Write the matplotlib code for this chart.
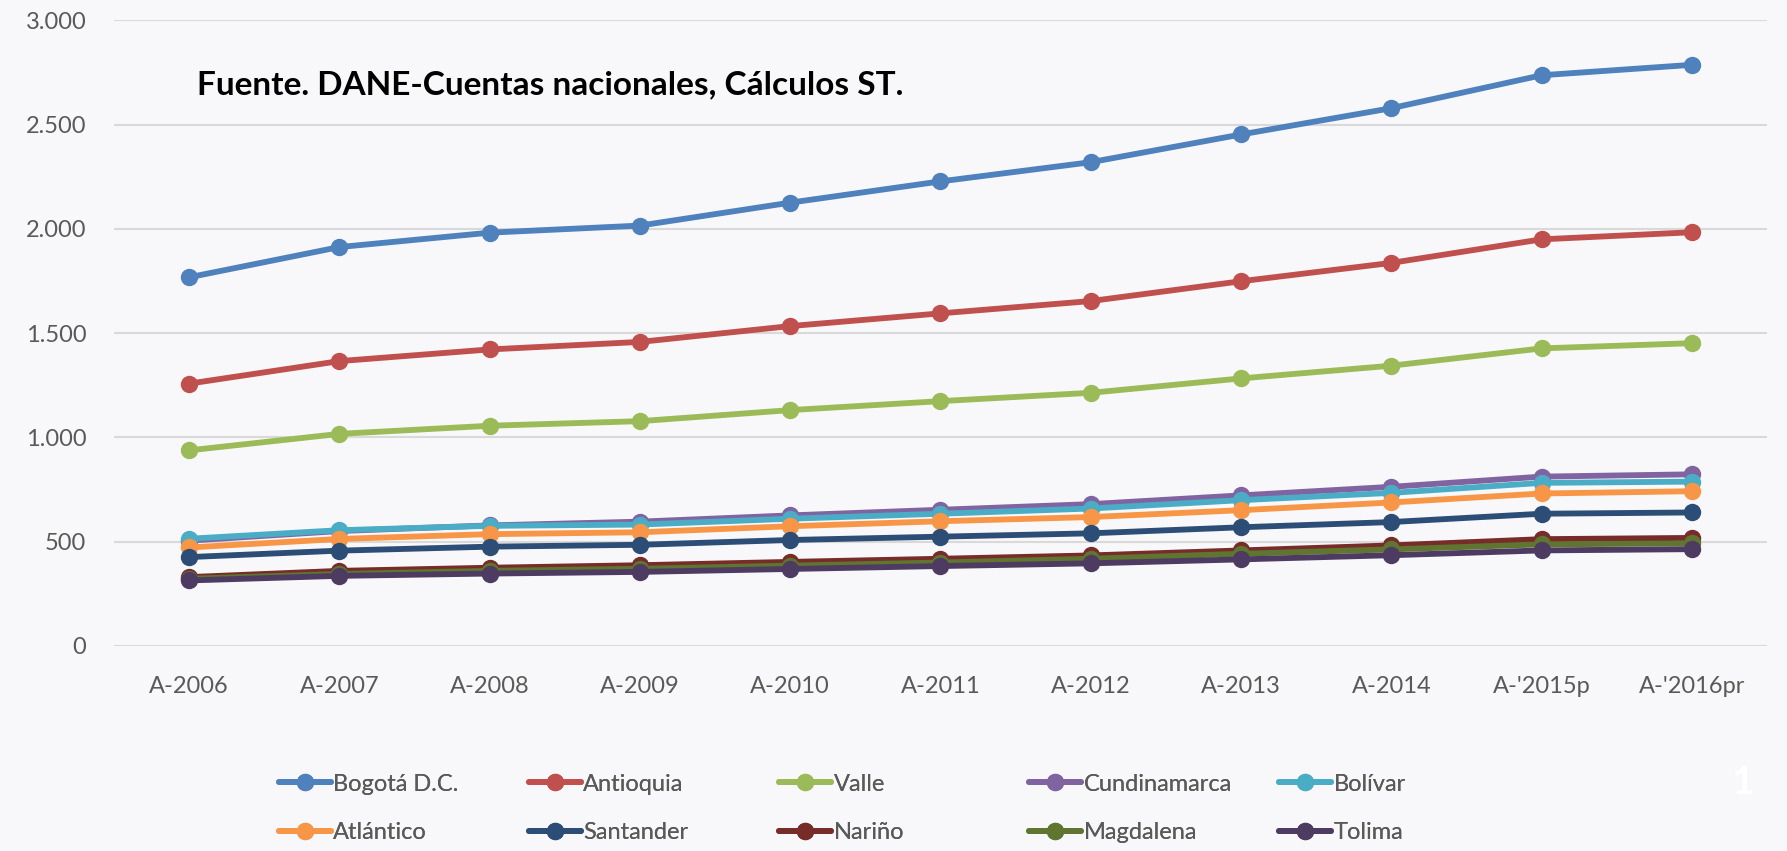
import matplotlib.pyplot as plt
from matplotlib.ticker import FuncFormatter

plt.rcParams['font.family'] = ['Lato', 'DejaVu Sans']

# Data
years = ["A-2006", "A-2007", "A-2008", "A-2009", "A-2010", "A-2011",
         "A-2012", "A-2013", "A-2014", "A-'2015p", "A-'2016pr"]

bogota = [1768, 1913, 1982, 2016, 2126, 2228, 2320, 2453, 2579, 2737, 2787]
antioquia = [1258, 1366, 1422, 1458, 1534, 1595, 1654, 1749, 1837, 1950, 1984]
valle = [938, 1017, 1056, 1078, 1131, 1174, 1214, 1283, 1344, 1427, 1452]
cundinamarca = [505, 551, 578, 596, 626, 653, 680, 722, 763, 812, 823]
bolivar = [514, 555, 576, 582, 610, 634, 659, 699, 734, 782, 788]
atlantico = [472, 513, 536, 545, 574, 598, 618, 651, 688, 731, 742]
santander = [426, 457, 476, 485, 508, 524, 540, 569, 594, 634, 640]
narino = [330, 360, 375, 387, 403, 418, 434, 458, 482, 512, 518]
magdalena = [322, 345, 360, 370, 385, 400, 418, 442, 463, 487, 492]
tolima = [314, 336, 347, 355, 369, 383, 396, 415, 435, 458, 464]

series = [
    ("Bogotá D.C.", bogota, "#4F81BD"),
    ("Antioquia", antioquia, "#C0504D"),
    ("Valle", valle, "#9BBB59"),
    ("Cundinamarca", cundinamarca, "#8064A2"),
    ("Bolívar", bolivar, "#4BACC6"),
    ("Atlántico", atlantico, "#F79646"),
    ("Santander", santander, "#2C4D75"),
    ("Nariño", narino, "#772C2A"),
    ("Magdalena", magdalena, "#5F7530"),
    ("Tolima", tolima, "#4D3B62"),
]

bg = "#f8f8fa"
fig = plt.figure(figsize=(17.87, 8.51), dpi=100, facecolor=bg)
ax = fig.add_axes([0.0638, 0.241, 0.925, 0.735], facecolor=bg)

x = list(range(len(years)))
handles = []
for name, vals, col in series:
    h, = ax.plot(x, vals, color=col, linewidth=4.2, marker='o', markersize=11.5,
                 label=name, solid_capstyle='round')
    handles.append(h)

ax.set_xlim(-0.5, len(years) - 0.5)
ax.set_ylim(0, 3000)
ax.set_yticks(range(0, 3001, 500))
ax.yaxis.set_major_formatter(FuncFormatter(lambda v, p: f"{int(v):,}".replace(",", ".")))
ax.set_xticks(x)
ax.set_xticklabels(years)
ax.tick_params(axis='both', length=0, labelsize=17, labelcolor="#595959")
ax.tick_params(axis='x', pad=22)
ax.tick_params(axis='y', pad=20)
ax.grid(axis='y', color="#d9d9d9", linewidth=1.5)
ax.set_axisbelow(True)
for s in ax.spines.values():
    s.set_visible(False)

ax.text(0.05, 0.897, "Fuente. DANE-Cuentas nacionales, Cálculos ST.",
        transform=ax.transAxes, fontsize=24, fontweight='bold', color='black',
        va='center', ha='left')

# legend: 5 columns, 2 rows, evenly spaced
col_x = [0.156, 0.296, 0.436, 0.576, 0.716]
for j in range(5):
    leg = fig.legend(handles=[handles[j], handles[j + 5]], loc='upper left',
                     bbox_to_anchor=(col_x[j], 0.091), frameon=False,
                     fontsize=17, labelcolor="#595959", handlelength=2.2,
                     handletextpad=0.1, labelspacing=1.17, borderaxespad=0,
                     borderpad=0)
    fig.add_artist(leg)

fig.text(0.975, 0.081, "1", color="white", fontsize=28, fontweight='bold',
         ha='center', va='center')

fig.savefig("out.png", dpi=100, facecolor=bg)
